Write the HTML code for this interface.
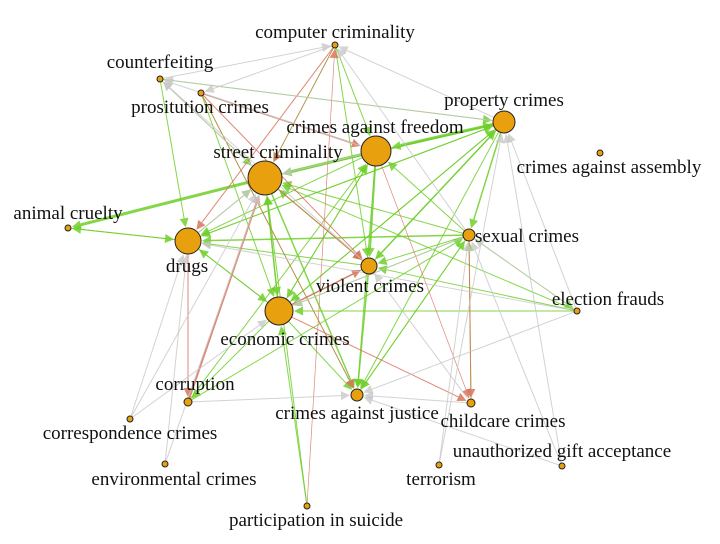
<!DOCTYPE html>
<html><head><meta charset="utf-8"><style>
html,body{margin:0;padding:0;background:#fff;}
svg text{font-family:"Liberation Serif",serif;font-size:19px;fill:#111;text-anchor:middle;}
</style></head><body>
<svg id="g" width="720" height="539" viewBox="0 0 720 539" xmlns="http://www.w3.org/2000/svg"></svg>
<script>
var N={cc:[335,45,3,"computer criminality",335,38],cf:[160,79,3,"counterfeiting",160,68],pr:[201,93,3,"prositution crimes",200,113],
pc:[504,122,11,"property crimes",504,106],fr:[376,151,15,"crimes against freedom",375,133],as:[600,153,3,"crimes against assembly",609,173],
sc:[265,178,17,"street criminality",278,158],ac:[68,228,3,"animal cruelty",68,219],dr:[188,241,13,"drugs",187,272],
sx:[469,235,6,"sexual crimes",527,242],vc:[369,266,8,"violent crimes",370,292],ef:[577,311,3,"election frauds",608,305],
ec:[279,311,14,"economic crimes",285,345],co:[188,402,4,"corruption",195,390],cr:[130,419,3,"correspondence crimes",130,439],
cj:[357,395,6,"crimes against justice",357,419],ch:[471,403,4,"childcare crimes",503,427],en:[165,464,3,"environmental crimes",174,485],
te:[439,465,3,"terrorism",441,485],ug:[562,466,3,"unauthorized gift acceptance",562,457],ps:[307,506,3,"participation in suicide",316,526]};
var G="#6fcf2a",R="#d9735e",Y="#c8c8c8";
var E=[
["pc","fr",G,3],["pc","sc",G,1.5],["pc","dr",G,1],["pc","vc",G,1.5],["pc","sx",G,1.5],["pc","ec",G,1],["pc","cj",G,1],
["sc","ac",G,3],["fr","sc",G,3],["fr","dr",G,1],["fr","vc",G,2],["fr","ec",G,1],["fr","cj",G,1],
["sx","dr",G,1.5],["sx","sc",G,1],["sx","vc",G,1],["sx","ec",G,1],["sx","fr",G,1],["sx","cj",G,1],["sx","ef",G,1],
["vc","sc",G,1],["vc","dr",G,1],["vc","ec",G,1],["vc","cj",G,1.5],["ec","sc",G,1.5],["ec","dr",G,1],["ec","fr",G,1],["ec","cj",G,1],["ec","co",G,1],
["dr","ac",G,1],["dr","sc",G,1],["ef","vc",G,1],["ef","sc",G,1],["ef","ec",G,1],["cc","fr",G,1],["cc","vc",G,1],["cc","sc",G,1],
["cf","dr",G,1],["cf","sc",G,1],["pr","ec",G,1],["pr","cj",G,1],["ch","sx",G,1],["ps","ec",G,1],["cj","sx",G,1],["sc","cj",G,1.5],
["sc","vc",G,1],["co","sx",G,1],["ec","pc",G,1],["sc","pc",G,1],["dr","pc",G,1],["vc","pc",G,1],["ac","dr",G,1],["co","fr",G,1],["ps","sc",G,1],["cf","pc",G,1],["dr","ec",G,1],["sc","ec",G,1],
["pr","fr",R,1.5],["co","sc",R,2],["dr","co",R,1],["sc","vc",R,1],["ec","vc",R,1.5],["sx","ch",R,1],["cc","dr",R,1],["pr","vc",R,1],["ec","ch",R,1],["ps","cc",R,0.7],["cc","sc",R,0.7],["fr","ch",R,0.7],["pr","cj",R,0.8],
["sc","cf",Y,1],["fr","cf",Y,1],["pc","cc",Y,1],["sx","cc",Y,1],["ef","pc",Y,1],["ug","sx",Y,1],["ug","pc",Y,1],["te","sx",Y,1],["te","pc",Y,1],
["cr","sc",Y,1],["cr","dr",Y,1],["en","sc",Y,1],["en","dr",Y,1],["cr","ec",Y,1],["ch","cj",Y,1],["sx","ec",Y,1],["ef","dr",Y,1],["ug","cj",Y,1],
["ef","cj",Y,1],["fr","sc",Y,1],["dr","sc",Y,1],["pc","cf",Y,1],["vc","cf",Y,1],["cc","pr",Y,1],["ch","vc",Y,1],["co","cj",Y,1],["ef","sx",Y,1],["cf","cc",Y,1]];
var s="";
E.forEach(function(e){var a=N[e[0]],b=N[e[1]];var dx=b[0]-a[0],dy=b[1]-a[1],L=Math.hypot(dx,dy),ux=dx/L,uy=dy/L;
var x1=a[0]+ux*a[2],y1=a[1]+uy*a[2],ex=b[0]-ux*(b[2]+1),ey=b[1]-uy*(b[2]+1);var bx=ex-ux*9,by=ey-uy*9;
var op=e[2]==Y?0.8:0.85;
s+='<line x1="'+x1+'" y1="'+y1+'" x2="'+bx+'" y2="'+by+'" stroke="'+e[2]+'" stroke-width="'+e[3]+'" opacity="'+op+'"/>';
s+='<polygon points="'+ex+','+ey+' '+(bx-uy*4.5)+','+(by+ux*4.5)+' '+(bx+uy*4.5)+','+(by-ux*4.5)+'" fill="'+e[2]+'" opacity="'+op+'"/>';});
for(var k in N){var n=N[k];s+='<circle cx="'+n[0]+'" cy="'+n[1]+'" r="'+n[2]+'" fill="#e9a00e" stroke="#222" stroke-width="1"/>';}
for(var k in N){var n=N[k];s+='<text x="'+n[4]+'" y="'+n[5]+'">'+n[3]+'</text>';}
document.getElementById("g").innerHTML=s;
</script>
</body></html>
